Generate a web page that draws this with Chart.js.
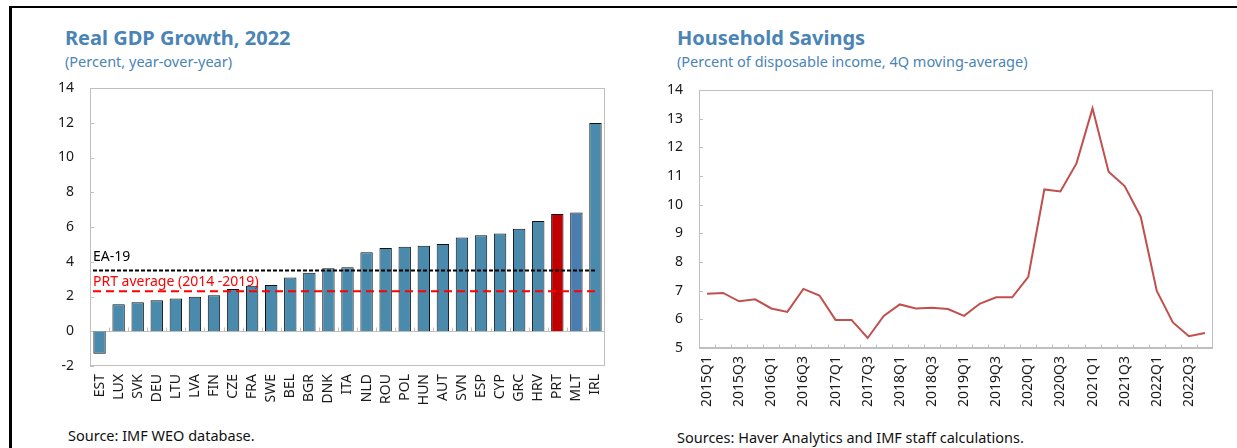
<!DOCTYPE html>
<html>
<head>
<meta charset="utf-8">
<script src="https://cdn.jsdelivr.net/npm/chart.js@4"></script>
<style>
  body { margin: 0; width: 1237px; height: 448px; overflow: hidden; background: #fff; position: relative; font-family: "Noto Sans", sans-serif; }
  .frame { position: absolute; left: 9px; top: 6px; right: 0; bottom: 0; border-top: 2px solid #000; border-left: 3px solid #000; }
  .title { position: absolute; font-weight: bold; font-size: 20px; line-height: 24px; color: #4a84b6; white-space: nowrap; }
  .sub { position: absolute; font-size: 14.5px; line-height: 18px; color: #4a84b6; white-space: nowrap; }
  .src { position: absolute; font-size: 14.5px; line-height: 18px; color: #111; white-space: nowrap; }
  .box { position: absolute; width: 600px; height: 340px; }
</style>
</head>
<body>
<div class="frame"></div>

<div class="title" style="left:65px; top:26px;">Real GDP Growth, 2022</div>
<div class="sub" style="left:65px; top:52px;">(Percent, year-over-year)</div>
<div class="box" style="left:20px; top:70px;"><canvas id="gdp-chart"></canvas></div>
<div class="src" style="left:68px; top:426px;">Source: IMF WEO database.</div>

<div class="title" style="left:677px; top:26px;">Household Savings</div>
<div class="sub" style="left:677px; top:52px;">(Percent of disposable income, 4Q moving-average)</div>
<div class="box" style="left:630px; top:70px;"><canvas id="savings-chart"></canvas></div>
<div class="src" style="left:677px; top:428px;">Sources: Haver Analytics and IMF staff calculations.</div>

<script>
// données
const gdpCountries = ['EST','LUX','SVK','DEU','LTU','LVA','FIN','CZE','FRA','SWE','BEL','BGR','DNK','ITA',
    'NLD','ROU','POL','HUN','AUT','SVN','ESP','CYP','GRC','HRV','PRT','MLT','IRL'];
const gdpGrowth = [-1.3, 1.55, 1.67, 1.78, 1.89, 1.99, 2.07, 2.43, 2.62, 2.66, 3.10, 3.37, 3.62, 3.68,
    4.54, 4.79, 4.87, 4.92, 5.02, 5.40, 5.52, 5.63, 5.90, 6.35, 6.75, 6.84, 11.98];
const ea19Average = 3.5;
const prtAverage = 2.3;
const gdpTicks = { min: -2, max: 14, step: 2 };

const quarters = ['2015Q1','2015Q2','2015Q3','2015Q4','2016Q1','2016Q2','2016Q3','2016Q4',
    '2017Q1','2017Q2','2017Q3','2017Q4','2018Q1','2018Q2','2018Q3','2018Q4',
    '2019Q1','2019Q2','2019Q3','2019Q4','2020Q1','2020Q2','2020Q3','2020Q4',
    '2021Q1','2021Q2','2021Q3','2021Q4','2022Q1','2022Q2','2022Q3','2022Q4'];
const savingsRate = [6.89, 6.92, 6.63, 6.70, 6.38, 6.26, 7.06, 6.83,
    5.98, 5.98, 5.35, 6.12, 6.52, 6.38, 6.40, 6.36,
    6.12, 6.55, 6.77, 6.77, 7.48, 10.53, 10.46, 11.44,
    13.36, 11.15, 10.65, 9.58, 6.99, 5.89, 5.41, 5.52];
const savingsTicks = { min: 5, max: 14, step: 1 };

const FONT = "'Noto Sans', sans-serif";
const TEXT = '#1a1a1a';
const AXIS_GREY = '#bfbfbf';

// cadre du graphique + petites graduations vers l'intérieur
const frameTicks = {
    id: 'frameTicks',
    beforeDatasetsDraw(chart, args, opts) {
        const { ctx, chartArea: a, scales: { x, y } } = chart;
        ctx.save();
        ctx.strokeStyle = AXIS_GREY;
        ctx.lineWidth = 1;
        ctx.strokeRect(a.left + 0.5, a.top + 0.5, a.width - 1, a.height - 1);
        const base = Math.round(y.getPixelForValue(opts.base)) + 0.5;
        ctx.beginPath();
        ctx.moveTo(a.left, base);
        ctx.lineTo(a.right, base);
        y.ticks.forEach((t, i) => {
            const py = Math.round(y.getPixelForTick(i)) + 0.5;
            ctx.moveTo(a.left, py);
            ctx.lineTo(a.left + 4, py);
        });
        for (let i = 1; i < x.ticks.length; i++) {
            const px = Math.round(x.getPixelForValue(i - 0.5)) + 0.5;
            ctx.moveTo(px, base);
            ctx.lineTo(px, base - 4);
        }
        ctx.stroke();
        ctx.restore();
    }
};

// lignes de moyenne avec leur étiquette
const refLines = {
    id: 'refLines',
    afterDatasetsDraw(chart, args, opts) {
        if (!opts.lines) return;
        const { ctx, chartArea: a, scales: { x, y } } = chart;
        ctx.save();
        opts.lines.forEach(l => {
            const py = y.getPixelForValue(l.value);
            ctx.strokeStyle = l.color;
            ctx.lineWidth = 2;
            ctx.setLineDash(l.dash);
            ctx.beginPath();
            ctx.moveTo(a.left + 3, py);
            ctx.lineTo(x.getPixelForValue(x.ticks.length - 1), py);
            ctx.stroke();
            ctx.setLineDash([]);
            ctx.fillStyle = l.color;
            ctx.font = `14px ${FONT}`;
            ctx.textBaseline = 'middle';
            ctx.fillText(l.label, a.left + 3, py - l.textOffset);
        });
        ctx.restore();
    }
};

function tickFont() {
    return { family: FONT, size: 14 };
}

// largeur / hauteur d'axe fixes, sans marge auto
function fixSize(prop, val) {
    return s => {
        s[prop] = val;
        s.paddingTop = 0;
        s.paddingBottom = 0;
        s.paddingLeft = 0;
        s.paddingRight = 0;
    };
}

new Chart(document.getElementById('gdp-chart'), {
    type: 'bar',
    data: {
        labels: gdpCountries,
        datasets: [{
            data: gdpGrowth,
            backgroundColor: gdpCountries.map(c => c === 'PRT' ? '#c00000' : (c === 'MLT' ? '#4a7eb0' : '#4a8bad')),
            borderColor: '#111',
            borderWidth: 1,
            barPercentage: 0.65,
            categoryPercentage: 1
        }]
    },
    options: {
        responsive: true,
        maintainAspectRatio: false,
        animation: false,
        layout: { padding: { left: 0, top: 18, right: 15, bottom: 0 } },
        plugins: {
            legend: { display: false },
            tooltip: { enabled: false },
            frameTicks: { base: 0 },
            refLines: {
                lines: [
                    { label: 'EA-19', value: ea19Average, color: '#000', dash: [4, 2], textOffset: 13 },
                    { label: 'PRT average (2014 -2019)', value: prtAverage, color: '#ff0000', dash: [8, 5], textOffset: 9 }
                ]
            }
        },
        scales: {
            x: {
                grid: { display: false, drawTicks: false },
                border: { display: false },
                ticks: { autoSkip: false, minRotation: 90, maxRotation: 90, padding: 8, color: TEXT, font: tickFont() },
                afterFit: fixSize('height', 44)
            },
            y: {
                min: gdpTicks.min,
                max: gdpTicks.max,
                grid: { display: false, drawTicks: false },
                border: { display: false },
                ticks: { stepSize: gdpTicks.step, padding: 16, color: TEXT, font: tickFont() },
                afterFit: fixSize('width', 70)
            }
        }
    },
    plugins: [frameTicks, refLines]
});

new Chart(document.getElementById('savings-chart'), {
    type: 'line',
    data: {
        labels: quarters,
        datasets: [{
            data: savingsRate,
            borderColor: '#c0504d',
            borderWidth: 2,
            pointRadius: 0,
            tension: 0,
            fill: false
        }]
    },
    options: {
        responsive: true,
        maintainAspectRatio: false,
        animation: false,
        layout: { padding: { left: 0, top: 20, right: 17, bottom: 0 } },
        plugins: {
            legend: { display: false },
            tooltip: { enabled: false },
            frameTicks: { base: savingsTicks.min }
        },
        scales: {
            x: {
                offset: true,
                grid: { display: false, drawTicks: false },
                border: { display: false },
                ticks: {
                    autoSkip: false, minRotation: 90, maxRotation: 90, padding: 8, color: TEXT, font: tickFont(),
                    callback: (v, i) => i % 2 === 0 ? quarters[i] : ''
                },
                afterFit: fixSize('height', 62)
            },
            y: {
                min: savingsTicks.min,
                max: savingsTicks.max,
                grid: { display: false, drawTicks: false },
                border: { display: false },
                ticks: { stepSize: savingsTicks.step, padding: 16, color: TEXT, font: tickFont() },
                afterFit: fixSize('width', 69)
            }
        }
    },
    plugins: [frameTicks]
});
</script>
</body>
</html>
